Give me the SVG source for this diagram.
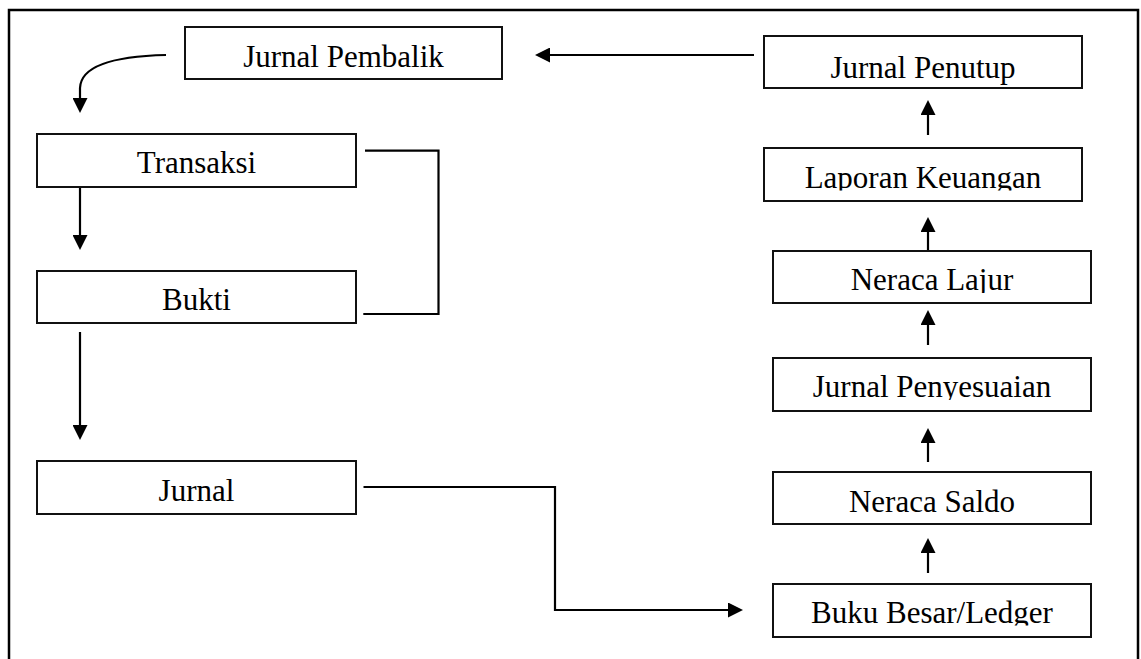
<svg xmlns="http://www.w3.org/2000/svg" width="1141" height="659" viewBox="0 0 1141 659">
  <style>
    .box { fill: #fff; stroke: #111; stroke-width: 2; }
    .lbl { font-family: "Liberation Serif", "Times New Roman", serif; font-size: 31px; fill: #000; text-anchor: middle; }
    .conn { fill: none; stroke: #000; stroke-width: 2.2; }
    .frame { fill: none; stroke: #000; stroke-width: 2.5; }
  </style>
  <defs>
    <marker id="arr" markerUnits="userSpaceOnUse" markerWidth="15" markerHeight="15" refX="2" refY="7.5" orient="auto">
      <path d="M0,0 L15,7.5 L0,15 Z" fill="#000"/>
    </marker>
    <clipPath id="clipLap"><rect x="700" y="100" width="440" height="90.5"/></clipPath>
    <clipPath id="clipLaj"><rect x="700" y="200" width="440" height="93"/></clipPath>
    <clipPath id="clipPen"><rect x="700" y="300" width="440" height="100"/></clipPath>
    <clipPath id="clipBuk"><rect x="700" y="540" width="440" height="85.5"/></clipPath>
  </defs>

  <path class="frame" d="M9,665 V10 H1138 V665"/>

  <g id="connectors">
    <path class="conn" d="M166,55 C120,56 81,64 80,88 L80,100" marker-end="url(#arr)"/>
    <path class="conn" d="M754,55 H548" marker-end="url(#arr)"/>
    <path class="conn" d="M80,187 V237" marker-end="url(#arr)"/>
    <path class="conn" d="M80,332 V427" marker-end="url(#arr)"/>
    <path class="conn" d="M365,150.7 H438.5 V314 H363.3"/>
    <path class="conn" d="M363.5,487 H555 V610 H730" marker-end="url(#arr)"/>
    <path class="conn" d="M928,573 V551" marker-end="url(#arr)"/>
    <path class="conn" d="M928,462 V441" marker-end="url(#arr)"/>
    <path class="conn" d="M928,345 V323" marker-end="url(#arr)"/>
    <path class="conn" d="M928,252 V230" marker-end="url(#arr)"/>
    <path class="conn" d="M928,135 V113" marker-end="url(#arr)"/>
  </g>

  <g id="jurnal-pembalik">
    <rect class="box" x="185" y="27" width="317" height="52"/>
    <text class="lbl" x="343.5" y="66.5">Jurnal Pembalik</text>
  </g>
  <g id="transaksi">
    <rect class="box" x="37" y="134" width="319" height="53"/>
    <text class="lbl" x="196.5" y="173">Transaksi</text>
  </g>
  <g id="bukti">
    <rect class="box" x="37" y="271" width="319" height="52"/>
    <text class="lbl" x="196.5" y="310">Bukti</text>
  </g>
  <g id="jurnal">
    <rect class="box" x="37" y="461" width="319" height="53"/>
    <text class="lbl" x="196.5" y="500.5">Jurnal</text>
  </g>
  <g id="jurnal-penutup">
    <rect class="box" x="764" y="36" width="318" height="52"/>
    <text class="lbl" x="923" y="78">Jurnal Penutup</text>
  </g>
  <g id="laporan-keuangan">
    <rect class="box" x="764" y="148" width="318" height="53"/>
    <text class="lbl" x="923" y="188" clip-path="url(#clipLap)">Laporan Keuangan</text>
  </g>
  <g id="neraca-lajur">
    <rect class="box" x="773" y="251" width="318" height="52"/>
    <text class="lbl" x="932" y="290" clip-path="url(#clipLaj)">Neraca Lajur</text>
  </g>
  <g id="jurnal-penyesuaian">
    <rect class="box" x="773" y="358" width="318" height="53"/>
    <text class="lbl" x="932" y="397" clip-path="url(#clipPen)">Jurnal Penyesuaian</text>
  </g>
  <g id="neraca-saldo">
    <rect class="box" x="773" y="472" width="318" height="52"/>
    <text class="lbl" x="932" y="511.5">Neraca Saldo</text>
  </g>
  <g id="buku-besar">
    <rect class="box" x="773" y="584" width="318" height="53"/>
    <text class="lbl" x="932" y="623" clip-path="url(#clipBuk)">Buku Besar/Ledger</text>
  </g>
</svg>
